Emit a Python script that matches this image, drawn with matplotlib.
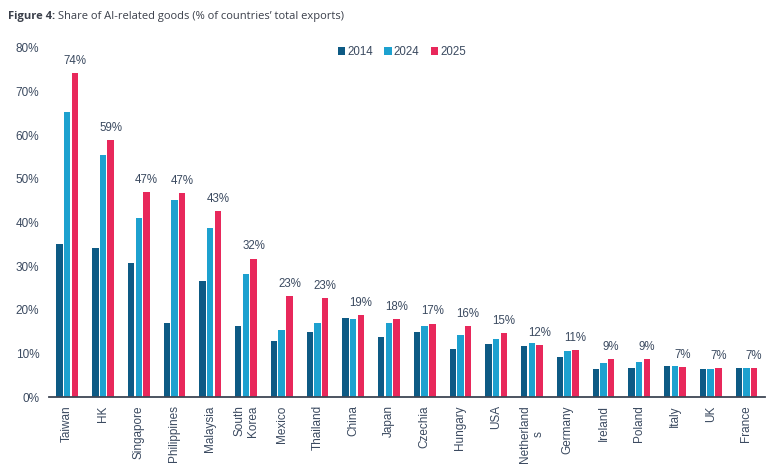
import matplotlib
matplotlib.use("Agg")
import matplotlib.pyplot as plt
import numpy as np
from matplotlib.patches import Patch

countries = ["Taiwan", "HK", "Singapore", "Philippines", "Malaysia", "South\nKorea",
             "Mexico", "Thailand", "China", "Japan", "Czechia", "Hungary", "USA",
             "Netherland\ns", "Germany", "Ireland", "Poland", "Italy", "UK", "France"]
v2014 = [35.1, 34.2, 30.7, 17.0, 26.6, 16.3, 12.8, 14.9, 18.1, 13.8, 14.9, 11.0, 12.2,
         11.6, 9.1, 6.4, 6.7, 7.0, 6.4, 6.7]
v2024 = [65.4, 55.5, 41.0, 45.1, 38.8, 28.2, 15.4, 17.0, 17.9, 17.0, 16.2, 14.1, 13.3,
         12.3, 10.6, 7.7, 8.0, 7.0, 6.5, 6.6]
v2025 = [74.2, 58.9, 47.0, 46.7, 42.6, 31.7, 23.2, 22.7, 18.8, 17.9, 16.8, 16.2, 14.6,
         11.9, 10.8, 8.7, 8.6, 6.9, 6.7, 6.6]
years = ["2014", "2024", "2025"]
yticks = [0, 10, 20, 30, 40, 50, 60, 70, 80]

colors = ["#0D5A84", "#1DA1CF", "#E8285B"]
text_col = "#3B4A60"

fig = plt.figure(figsize=(7.8, 4.72), dpi=100)
ax = fig.add_axes([49/780, 1 - 397/472, (765-49)/780, (397-48)/472])

x = np.arange(len(countries))
w = 0.18
step = 0.215
for i, (vals, c) in enumerate(zip([v2014, v2024, v2025], colors)):
    ax.bar(x + (i - 1) * step, vals, width=w, color=c, linewidth=0)

for xi, v in zip(x, v2025):
    ax.annotate(f"{v:.0f}%", (xi + step, v), xytext=(0, 4.5), textcoords="offset points",
                ha="center", va="bottom", fontsize=8.3, color=text_col,
                family="Liberation Sans")

ax.set_xlim(-0.51, len(countries) - 1 + 0.52)
ax.set_ylim(0, 80)
ax.set_yticks(yticks)
ax.set_yticklabels([f"{t}%" for t in yticks])
ax.set_xticks(x)
ax.set_xticklabels(countries, rotation=90)
for lab in ax.get_xticklabels() + ax.get_yticklabels():
    lab.set_family("Liberation Sans")
    lab.set_fontsize(8.5)
    lab.set_color(text_col)
ax.tick_params(axis="both", length=0)
ax.tick_params(axis="y", pad=7)
ax.tick_params(axis="x", pad=6)
for s in ["top", "right", "left"]:
    ax.spines[s].set_visible(False)
ax.spines["bottom"].set_color("#3E4654")
ax.spines["bottom"].set_linewidth(1.3)

handles = [Patch(facecolor=c, edgecolor="none", label=y) for c, y in zip(colors, years)]
leg = fig.legend(handles=handles, loc="center", bbox_to_anchor=(402/780, 1 - 52/472),
                 ncol=3, frameon=False, handlelength=0.62, handleheight=0.62,
                 handletextpad=0.2, columnspacing=1.0,
                 prop={"family": "Liberation Sans", "size": 8.3})
for t in leg.get_texts():
    t.set_color(text_col)

fig.text(8/780, 1 - 16/472, "Figure 4:", fontsize=8, fontweight="bold", color="#3A3F4A",
         family="Open Sans", va="center", ha="left")
fig.text(58/780, 1 - 16/472, "Share of AI-related goods (% of countries\u2019 total exports)",
         fontsize=8, color="#3A3F4A", family="Open Sans", va="center", ha="left")

fig.savefig("out.png", dpi=100)
